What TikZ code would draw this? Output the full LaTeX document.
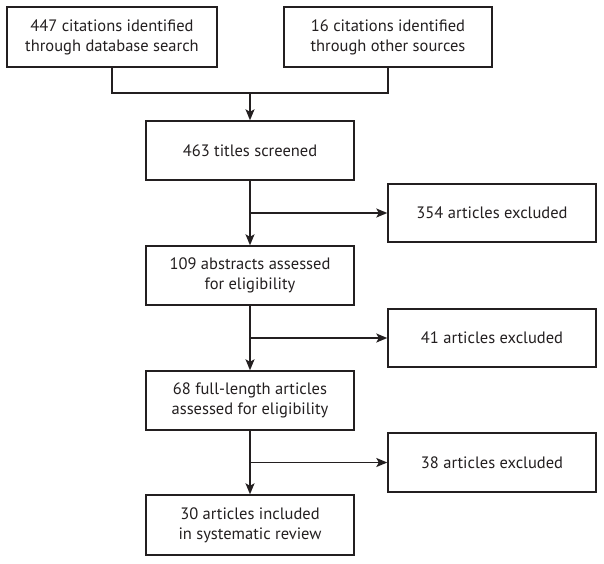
\documentclass[tikz,border=0pt]{standalone}
\usepackage{fontspec}
\setmainfont{PT Sans}
\usetikzlibrary{arrows.meta}
\definecolor{ink}{HTML}{231F20}
\begin{document}
\begin{tikzpicture}[x=1pt,y=-1pt,
  box/.style={draw=ink,line width=1.4pt,text=ink,minimum width=208pt,minimum height=59pt,align=center,font=\fontsize{16.5}{20}\selectfont,inner sep=0pt},
  conn/.style={draw=ink,line width=1.4pt},
  arr/.style={conn,-{Stealth[length=11pt,width=9pt,inset=2.5pt]}}]
\useasboundingbox (0,0) rectangle (604,563);
\node[box,minimum width=210pt,minimum height=60pt] (t1) at (112,37) {447 citations identified\\through database search};
\node[box,minimum height=60pt] (t2) at (388,37) {16 citations identified\\through other sources};
\node[box] (a) at (250,150.5) {463 titles screened};
\node[box,minimum height=58pt] (e1) at (492,213) {354 articles excluded};
\node[box] (b) at (250,275.5) {109 abstracts assessed\\for eligibility};
\node[box,minimum height=58pt] (e2) at (492,338) {41 articles excluded};
\node[box] (c) at (250,400.5) {68 full-length articles\\assessed for eligibility};
\node[box] (e3) at (492,462.5) {38 articles excluded};
\node[box,minimum height=60pt] (d) at (250,525) {30 articles included\\in systematic review};
\coordinate (m) at (250,93);
\draw[conn] (t1.south) |- (m) -| (t2.south);
\draw[arr] (m) -- (a.north);
\draw[arr] (a.south) -- (b.north);
\draw[arr] (a.south |- e1.west) -- (e1.west);
\draw[arr] (b.south) -- (c.north);
\draw[arr] (b.south |- e2.west) -- (e2.west);
\draw[arr] (c.south) -- (d.north);
\draw[arr] (c.south |- e3.west) -- (e3.west);
\end{tikzpicture}
\end{document}
